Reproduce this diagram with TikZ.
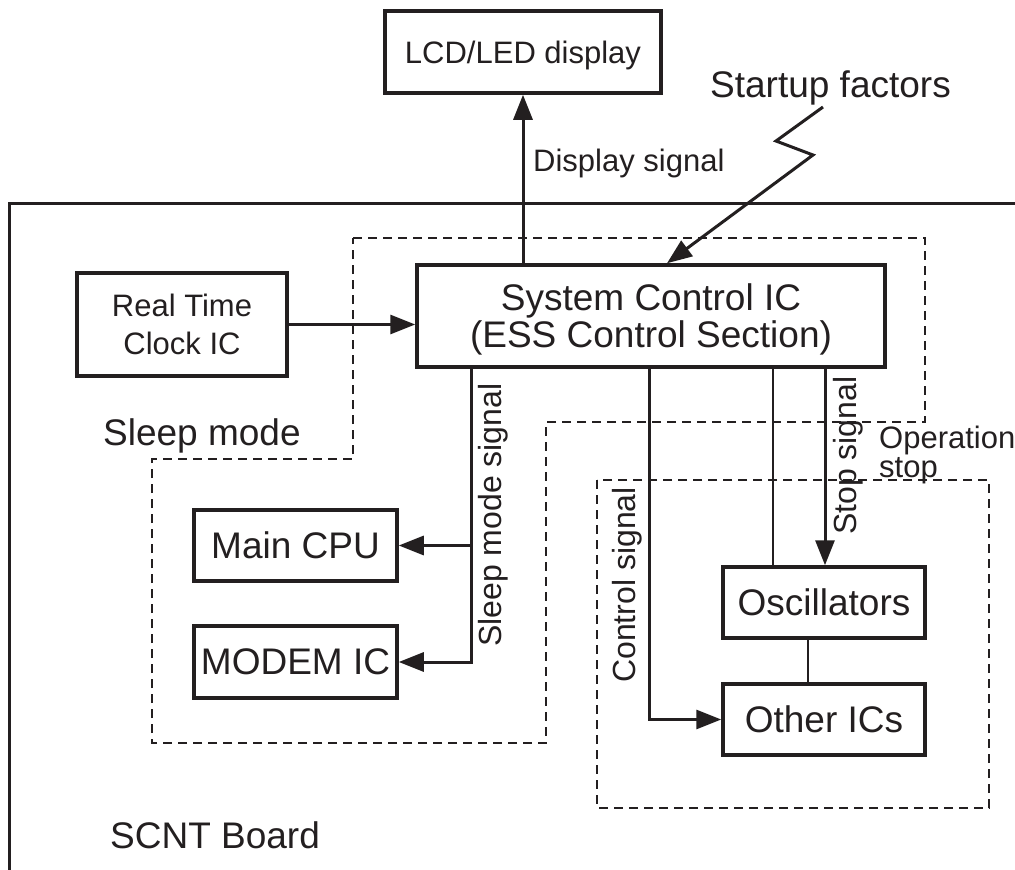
\documentclass[tikz,border=0pt]{standalone}
\usepackage{fontspec}
\setmainfont{Liberation Sans}
\usetikzlibrary{arrows.meta,calc}
\definecolor{ink}{RGB}{35,31,32}
\newcommand\fsBig{\fontsize{37}{37}\selectfont}
\newcommand\fsMid{\fontsize{31}{38}\selectfont}
\newcommand\fsSig{\fontsize{32}{34}\selectfont}
\newcommand\fsOp{\fontsize{31}{29}\selectfont}
\begin{document}
\begin{tikzpicture}[x=1pt,y=-1pt,
  box/.style={draw=ink, line width=3.5pt, inner sep=0pt, align=center, text=ink, text depth=0pt},
  lbl/.style={inner sep=0pt, text=ink},
  sig/.style={inner sep=0pt, text=ink, font=\fsSig, rotate=90, anchor=base west},
  arr/.style={draw=ink, line width=3pt, -{Triangle[length=25pt,width=19pt]}},
  thinline/.style={draw=ink, line width=2pt},
  region/.style={draw=ink, line width=2pt, dash pattern=on 9pt off 6pt},
  boardline/.style={draw=ink, line width=3pt}]
\useasboundingbox (0,0) rectangle (1015,870);
\fill[white] (0,0) rectangle (1015,870);

% board
\draw[boardline] (9,875) -- (9,203) -- (1020,203);

% dashed regions
\draw[region] (353,238) -- (925,238) -- (925,422) -- (546,422) -- (546,743)
  -- (152,743) -- (152,459) -- (353,459) -- cycle;
\draw[region] (597,480) rectangle (989,808);

% boxes
\node[box, minimum width=276pt, minimum height=82pt, font=\fsMid] (lcd) at (523,52) {LCD/LED display};
\node[box, minimum width=210pt, minimum height=103pt, font=\fsMid] (rtc) at (182,324.5) {Real Time\\Clock IC};
\node[box, minimum width=468pt, minimum height=102pt, font=\fsBig] (sys) at (651,316) {System Control IC\\(ESS Control Section)};
\node[box, minimum width=203pt, minimum height=71pt, font=\fsBig] (cpu) at (295.5,545.5) {Main CPU};
\node[box, minimum width=203pt, minimum height=72pt, font=\fsBig] (modem) at (295.5,662) {MODEM IC};
\node[box, minimum width=202pt, minimum height=71pt, font=\fsBig] (osc) at (824,602.5) {Oscillators};
\node[box, minimum width=202pt, minimum height=71pt, font=\fsBig] (oth) at (824,719.5) {Other ICs};

% labels
\node[lbl, font=\fsBig, anchor=base west] (sft) at (710,97) {Startup factors};
\node[lbl, font=\fsMid, anchor=base west] (dsl) at (533,171) {Display signal};
\node[lbl, font=\fsBig, anchor=base west] (slm) at (103,445) {Sleep mode};
\node[lbl, font=\fsBig, anchor=base west] (scnt) at (110,848) {SCNT Board};
\node[lbl, font=\fsOp, anchor=north west, align=left] (ops) at (879,425.5) {Operation\\stop};
\node[sig] (sms) at (501,647) {Sleep mode signal};
\node[sig] (ctl) at (635,683) {Control signal};
\node[sig] (sts) at (856,535) {Stop signal};

% x positions of vertical connectors
\coordinate (slx) at (471,0);
\coordinate (ctx) at (649,0);
\coordinate (thx) at (773,0);
\coordinate (stx) at (825,0);
\coordinate (ocx) at (808,0);
\coordinate (sfa) at (667,0);
\coordinate (sfs) at (823,107);

% connectors
\draw[arr] (sys.north -| lcd.south) -- (lcd.south);
\draw[arr] (rtc.east) -- (rtc.east -| sys.west);
\draw[arr] (sfs) -- (776,141) -- (813,155) -- (sfa |- sys.north);
\draw[arr] (slx |- sys.south) -- (slx |- modem.east) -- (modem.east);
\draw[arr] (slx |- cpu.east) -- (cpu.east);
\draw[arr] (ctx |- sys.south) -- (ctx |- oth.west) -- (oth.west);
\draw[thinline] (thx |- sys.south) -- (thx |- osc.north);
\draw[arr] (stx |- sys.south) -- (stx |- osc.north);
\draw[thinline] (ocx |- osc.south) -- (ocx |- oth.north);
\end{tikzpicture}
\end{document}
